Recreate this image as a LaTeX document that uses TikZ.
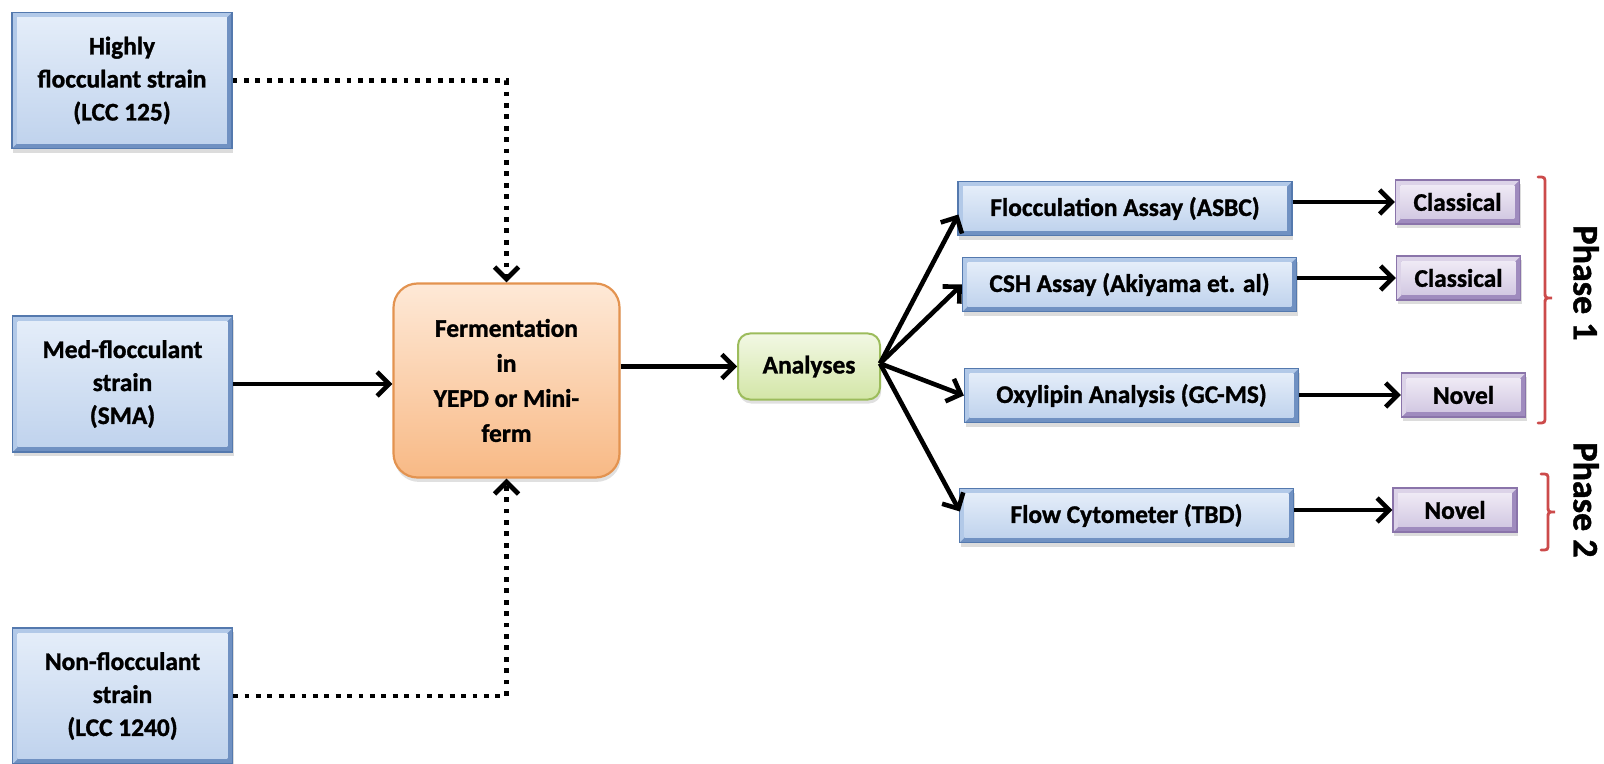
\documentclass[tikz,border=0pt]{standalone}
\usepackage{fontspec}
\setmainfont[BoldFeatures={FakeBold=1.2}]{Carlito}
\usetikzlibrary{arrows.meta,shadows,calc}

\definecolor{blueline}{HTML}{5479AE}
\definecolor{bluelight}{HTML}{B2C9E8}
\definecolor{bluedark}{HTML}{7091C2}
\definecolor{bluetop}{HTML}{E4EDF9}
\definecolor{bluebot}{HTML}{C0D3ED}
\definecolor{purpline}{HTML}{8A74AA}
\definecolor{purplight}{HTML}{DCD3E8}
\definecolor{purpdark}{HTML}{9F8BBE}
\definecolor{purptop}{HTML}{EFEAF5}
\definecolor{purpbot}{HTML}{D2C8E2}
\definecolor{orgline}{HTML}{E39350}
\definecolor{orgtop}{HTML}{FEE9D7}
\definecolor{orgbot}{HTML}{F8B985}
\definecolor{grnline}{HTML}{9CBC5C}
\definecolor{grntop}{HTML}{F2F8E4}
\definecolor{grnbot}{HTML}{D3E6A7}
\definecolor{bracered}{HTML}{CC4B4B}

\tikzset{
  bevel/.style n args={5}{draw=#1, line width=0.6pt, fill=#3,
    drop shadow={shadow xshift=0.6pt, shadow yshift=-2.2pt, fill=black!30, opacity=0.45},
    path picture={
      \fill[#2] (path picture bounding box.south west) -- (path picture bounding box.north west)
        -- (path picture bounding box.north east) -- ([shift={(-2.6pt,-2.6pt)}]path picture bounding box.north east)
        -- ([shift={(2.6pt,-2.6pt)}]path picture bounding box.north west) -- ([shift={(2.6pt,2.6pt)}]path picture bounding box.south west) -- cycle;
      \shade[top color=#4, bottom color=#5] ([shift={(2.6pt,2.6pt)}]path picture bounding box.south west)
        rectangle ([shift={(-2.6pt,-2.6pt)}]path picture bounding box.north east);
    }},
  strainbox/.style={bevel={blueline}{bluelight}{bluedark}{bluetop}{bluebot},
    minimum width=110pt, minimum height=68pt, inner sep=0pt, align=center,
    font=\bfseries\fontsize{12.7}{16.5}\selectfont},
  assaybox/.style={bevel={blueline}{bluelight}{bluedark}{bluetop}{bluebot},
    minimum width=167pt, minimum height=27pt, inner sep=0pt},
  typebox/.style={bevel={purpline}{purplight}{purpdark}{purptop}{purpbot},
    minimum width=62pt, minimum height=22pt, inner sep=0pt},
  fermbox/.style={draw=orgline, line width=1.1pt, rounded corners=12pt,
    top color=orgtop, bottom color=orgbot,
    drop shadow={shadow xshift=0.6pt, shadow yshift=-2.2pt, fill=black!30, opacity=0.4},
    minimum width=113pt, minimum height=97pt, inner sep=0pt, align=center,
    font=\bfseries\fontsize{12.7}{17.5}\selectfont},
  anbox/.style={draw=grnline, line width=1pt, rounded corners=6pt,
    top color=grntop, bottom color=grnbot,
    drop shadow={shadow xshift=0.6pt, shadow yshift=-2pt, fill=black!30, opacity=0.4},
    minimum width=71pt, minimum height=33pt, inner sep=0pt},
  arrowline/.style={line width=2.3pt, -{Straight Barb[length=6pt,width=12pt]}},
  dotline/.style={line width=2.4pt, dash pattern=on 2.4pt off 3.3pt,
    -{Straight Barb[length=6pt,width=12pt]}},
  bracket/.style={draw=bracered, line width=1.4pt, line cap=round},
  phase/.style={rotate=-90, font=\bfseries\fontsize{18}{20}\selectfont}
}

\begin{document}
\begin{tikzpicture}[x=0.5pt, y=-0.5pt, font=\bfseries\fontsize{12.7}{16}\selectfont]
\useasboundingbox (0,0) rectangle (1604,764);

% strains on the left
\node[strainbox] (hf) at (122,80.5) {Highly\\flocculant strain\\(LCC 125)};
\node[strainbox] (mf) at (122.5,384) {Med-flocculant\\strain\\(SMA)};
\node[strainbox] (nf) at (122.5,696) {Non-flocculant\\strain\\(LCC 1240)};

% fermentation and analyses
\node[fermbox] (ferm) at (506.5,380.5) {Fermentation\\in\\YEPD or Mini-\\ferm};
\node[anbox] (an) at (809,366.5) {Analyses};

% assays
\node[assaybox] (floc) at (1125,208.5) {Flocculation Assay (ASBC)};
\node[assaybox] (csh) at (1129.5,284.5) {CSH Assay (Akiyama et. al)};
\node[assaybox] (oxy) at (1131.5,395.5) {Oxylipin Analysis (GC-MS)};
\node[assaybox] (flow) at (1126.5,515.5) {Flow Cytometer (TBD)};

% method type
\node[typebox] (cl1) at (1457.5,202) {Classical};
\node[typebox] (cl2) at (1458.5,278) {Classical};
\node[typebox] (nv1) at (1463.5,395) {Novel};
\node[typebox] (nv2) at (1455,510) {Novel};

% connectors
\draw[dotline] (hf.east) -| (ferm.north);
\draw[dotline] (nf.east) -| (ferm.south);
\draw[arrowline] (mf.east) -- (mf.east -| ferm.west);
\draw[arrowline] (ferm.east |- an.west) -- (an.west);
\coordinate (split) at ($(an.east)+(-1,-3)$);
\draw[arrowline] (split) -- ($(floc.west)+(1,6)$);
\draw[arrowline] (split) -- (csh.west);
\draw[arrowline] (split) -- (oxy.west);
\draw[arrowline] (split) -- ($(flow.west)+(1,-4)$);
\draw[arrowline] (cl1.west -| floc.east) -- (cl1.west);
\draw[arrowline] (cl2.west -| csh.east) -- (cl2.west);
\draw[arrowline] (nv1.west -| oxy.east) -- (nv1.west);
\draw[arrowline] (nv2.west -| flow.east) -- (nv2.west);

% phase braces and labels
\draw[bracket] (1538,177) .. controls (1545,177) .. (1545,184) -- (1545,292)
  .. controls (1545,298) .. (1552,298) .. controls (1545,298) .. (1545,304)
  -- (1545,416) .. controls (1545,423) .. (1538,423);
\draw[bracket] (1541,474) .. controls (1548,474) .. (1548,480) -- (1548,506)
  .. controls (1548,512) .. (1555,512) .. controls (1548,512) .. (1548,518)
  -- (1548,544) .. controls (1548,550) .. (1541,550);
\node[phase] (p1) at (1586,283) {Phase 1};
\node[phase] (p2) at (1586,500) {Phase 2};
\end{tikzpicture}
\end{document}
